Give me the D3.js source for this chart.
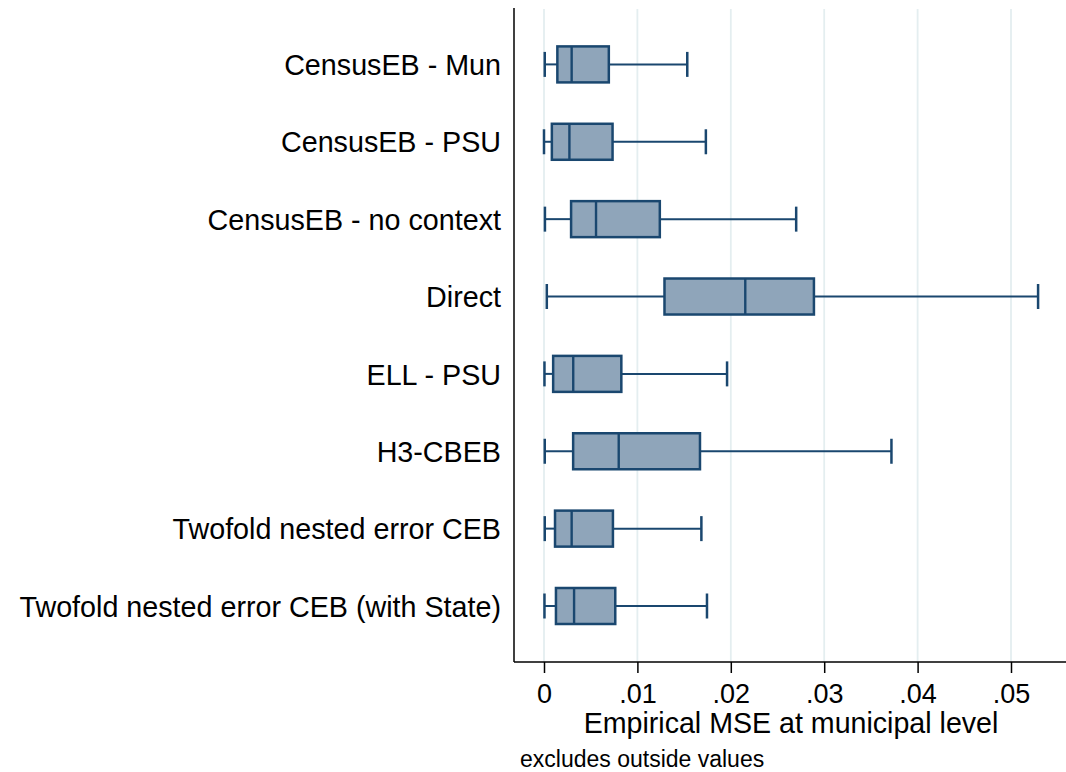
<!DOCTYPE html>
<html>
<head>
<meta charset="utf-8">
<script src="https://cdn.jsdelivr.net/npm/d3@7"></script>
<style>
  html, body { margin: 0; padding: 0; background: #fff; }
  svg { display: block; font-family: "Liberation Sans", Arial, sans-serif; }
</style>
</head>
<body>
<svg id="chart" width="1066" height="772"></svg>
<script>
// Estimation methods (one box per row)
const methods = [
  "CensusEB - Mun",
  "CensusEB - PSU",
  "CensusEB - no context",
  "Direct",
  "ELL - PSU",
  "H3-CBEB",
  "Twofold nested error CEB",
  "Twofold nested error CEB (with State)"
];
// Box-plot summary statistics of empirical MSE (outside values excluded)
const lowerWhisker = [0.00008, 0.00000, 0.00010, 0.00030, 0.00005, 0.00008, 0.00008, 0.00005];
const q1           = [0.00143, 0.00084, 0.00290, 0.01290, 0.00098, 0.00312, 0.00118, 0.00128];
const median       = [0.00296, 0.00272, 0.00557, 0.02155, 0.00313, 0.00800, 0.00296, 0.00322];
const q3           = [0.00694, 0.00734, 0.01240, 0.02890, 0.00828, 0.01670, 0.00738, 0.00763];
const upperWhisker = [0.01534, 0.01733, 0.02700, 0.05290, 0.01960, 0.03720, 0.01685, 0.01745];
const xTicks = [0, 0.01, 0.02, 0.03, 0.04, 0.05];
const xTickLabels = ["0", ".01", ".02", ".03", ".04", ".05"];

const boxes = methods.map((m, i) => ({
  method: m, lo: lowerWhisker[i], q1: q1[i], med: median[i], q3: q3[i], hi: upperWhisker[i]
}));

const svg = d3.select("#chart");
const W = 1066;

const plotLeft = 514, plotRight = W, plotTop = 8, plotBottom = 662;

const x = d3.scaleLinear().domain([0, 0.05]).range([544, 1011]);
const y = d3.scalePoint().domain(methods).range([64.4, 606]);

const navy = "#1a476f";
const boxFill = "#8fa5ba";
const gridCol = "#e4eef0";

// vertical grid lines
svg.append("g")
  .selectAll("line")
  .data(xTicks)
  .join("line")
  .attr("x1", d => x(d)).attr("x2", d => x(d))
  .attr("y1", plotTop + 1).attr("y2", plotBottom)
  .attr("stroke", gridCol)
  .attr("stroke-width", 1.8);

const capH = 25, boxH = 36;

const g = svg.append("g").selectAll("g").data(boxes).join("g")
  .attr("transform", d => `translate(0,${y(d.method)})`);

// whiskers
g.append("line")
  .attr("x1", d => x(d.lo)).attr("x2", d => x(d.q1))
  .attr("y1", 0).attr("y2", 0)
  .attr("stroke", navy).attr("stroke-width", 2);
g.append("line")
  .attr("x1", d => x(d.q3)).attr("x2", d => x(d.hi))
  .attr("y1", 0).attr("y2", 0)
  .attr("stroke", navy).attr("stroke-width", 2);
// whisker caps
g.append("line")
  .attr("x1", d => x(d.lo)).attr("x2", d => x(d.lo))
  .attr("y1", -capH / 2).attr("y2", capH / 2)
  .attr("stroke", navy).attr("stroke-width", 2.5);
g.append("line")
  .attr("x1", d => x(d.hi)).attr("x2", d => x(d.hi))
  .attr("y1", -capH / 2).attr("y2", capH / 2)
  .attr("stroke", navy).attr("stroke-width", 2.5);
// interquartile box
g.append("rect")
  .attr("x", d => x(d.q1)).attr("width", d => x(d.q3) - x(d.q1))
  .attr("y", -boxH / 2).attr("height", boxH)
  .attr("fill", boxFill)
  .attr("stroke", navy).attr("stroke-width", 2.5);
// median
g.append("line")
  .attr("x1", d => x(d.med)).attr("x2", d => x(d.med))
  .attr("y1", -boxH / 2).attr("y2", boxH / 2)
  .attr("stroke", navy).attr("stroke-width", 2.4);

// category labels
svg.append("g").selectAll("text").data(methods).join("text")
  .attr("x", 501).attr("y", d => y(d))
  .attr("dy", "0.37em")
  .attr("text-anchor", "end")
  .attr("font-size", 28.7)
  .attr("fill", "#000")
  .text(d => d);

// y axis line
svg.append("line")
  .attr("x1", plotLeft).attr("x2", plotLeft)
  .attr("y1", plotTop).attr("y2", plotBottom)
  .attr("stroke", "#000").attr("stroke-width", 1.5);

// x axis
const xAxis = d3.axisBottom(x)
  .tickValues(xTicks)
  .tickFormat((d, i) => xTickLabels[i])
  .tickSize(11)
  .tickPadding(11)
  .tickSizeOuter(0);
const ax = svg.append("g")
  .attr("transform", `translate(0,${plotBottom})`)
  .call(xAxis);
ax.select(".domain").remove();
ax.selectAll(".tick line").attr("stroke", "#000").attr("stroke-width", 1.5);
ax.selectAll(".tick text")
  .attr("font-size", 27)
  .attr("font-family", "Liberation Sans, Arial, sans-serif")
  .attr("fill", "#000");
svg.append("line")
  .attr("x1", plotLeft).attr("x2", plotRight)
  .attr("y1", plotBottom).attr("y2", plotBottom)
  .attr("stroke", "#000").attr("stroke-width", 1.5);

// axis title
svg.append("text")
  .attr("x", (plotLeft + plotRight) / 2 + 1)
  .attr("y", 733)
  .attr("text-anchor", "middle")
  .attr("font-size", 28.6)
  .attr("fill", "#000")
  .text("Empirical MSE at municipal level");

// note
svg.append("text")
  .attr("x", 520)
  .attr("y", 767)
  .attr("font-size", 23)
  .attr("fill", "#000")
  .text("excludes outside values");
</script>
</body>
</html>
